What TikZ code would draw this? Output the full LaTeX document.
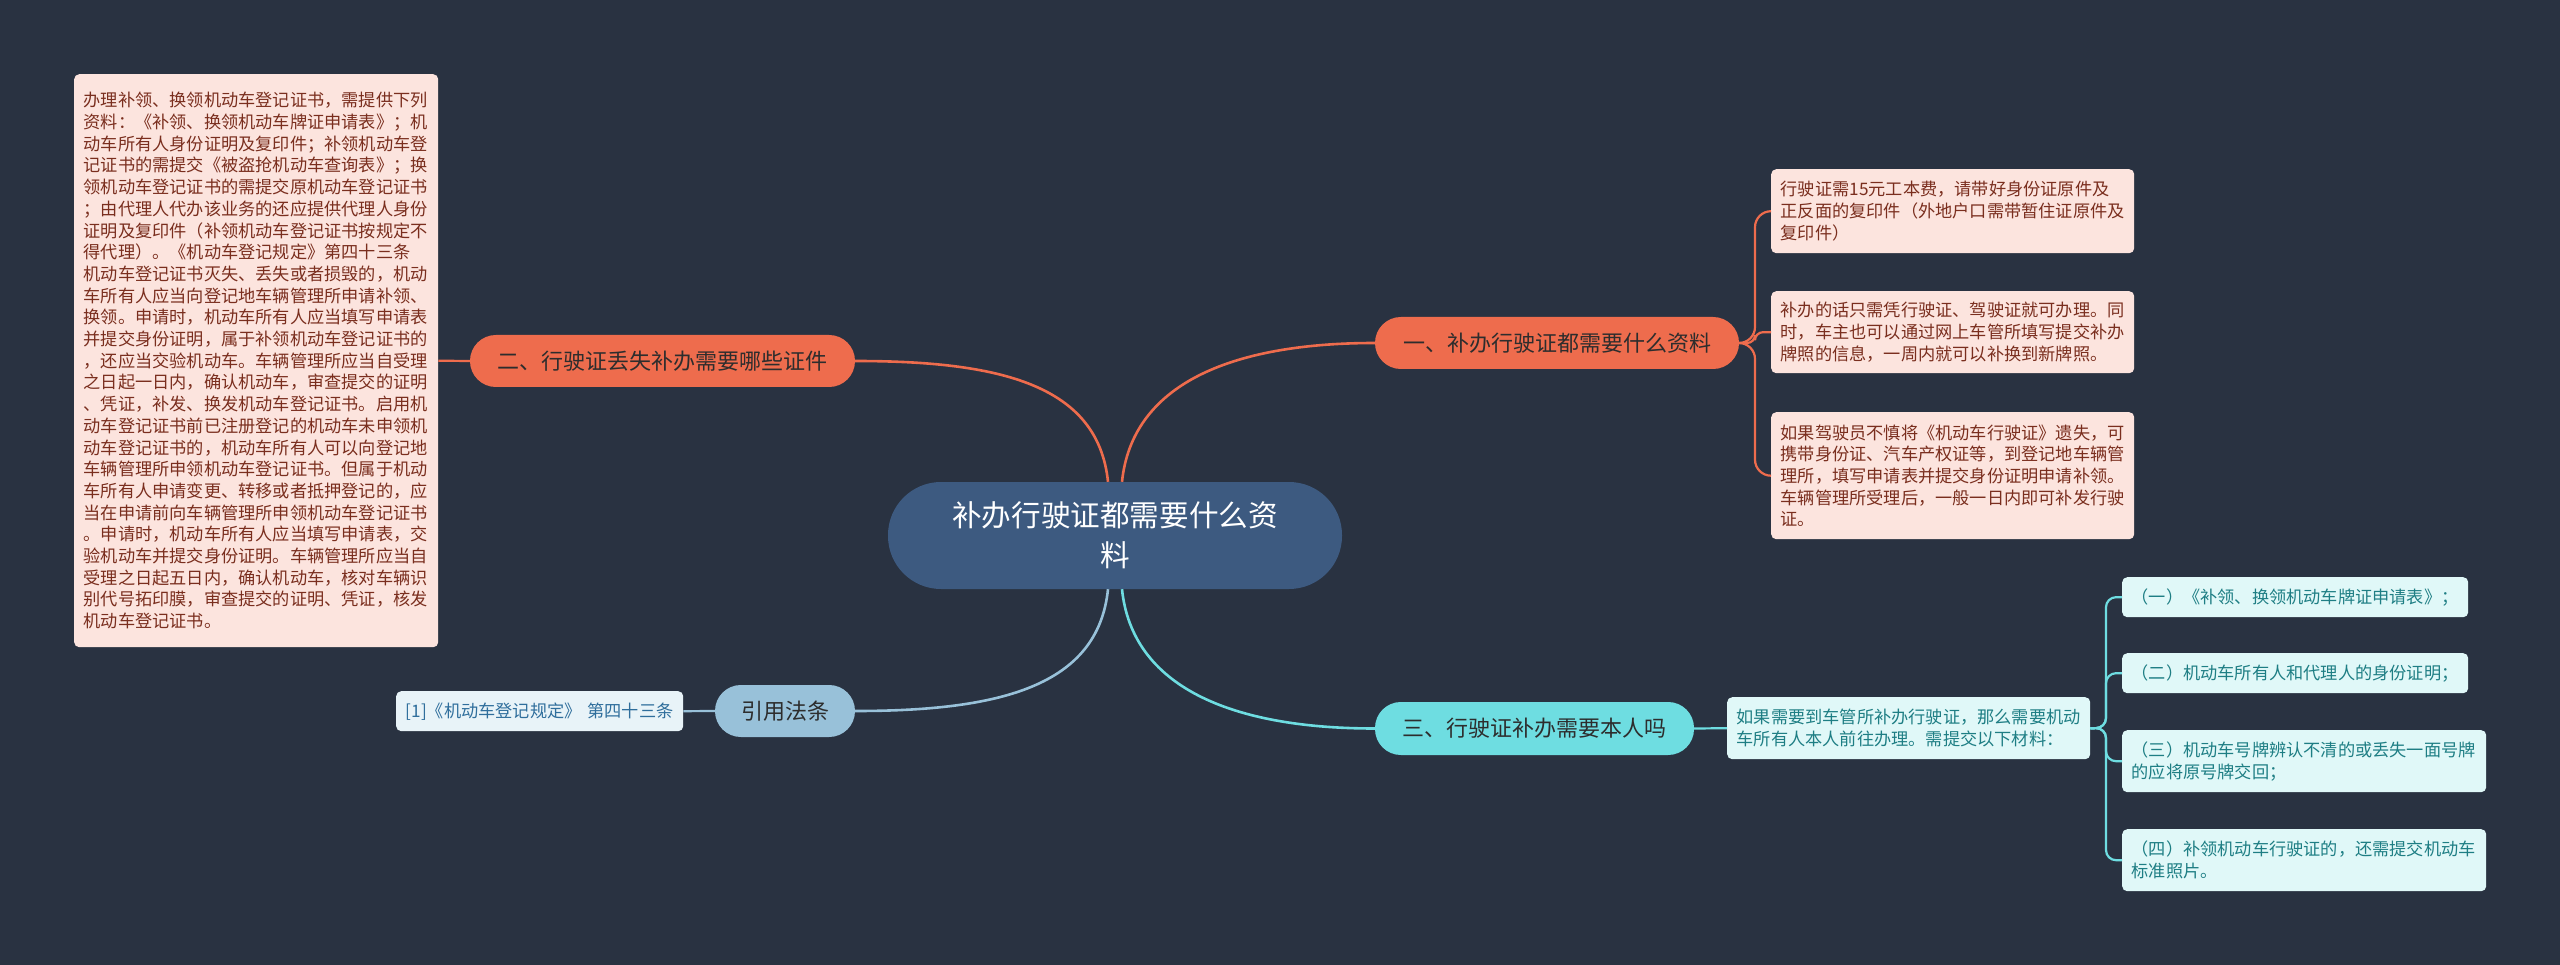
\documentclass[tikz,border=0pt]{standalone}
\usepackage{fontspec}
\setmainfont{Noto Sans CJK SC}
\usetikzlibrary{calc}
\definecolor{bg}{HTML}{293241}
\definecolor{cfill}{HTML}{3D5A80}
\definecolor{orn}{HTML}{EE6C4D}
\definecolor{cyn}{HTML}{6EDDE1}
\definecolor{lbl}{HTML}{98C1D9}
\definecolor{pinkf}{HTML}{FCE4DE}
\definecolor{pinkt}{HTML}{7A2E1E}
\definecolor{cynf}{HTML}{E0F8F8}
\definecolor{cynt}{HTML}{1E7E84}
\definecolor{bluf}{HTML}{E8F3F8}
\definecolor{blut}{HTML}{2F6E9C}
\definecolor{dtxt}{HTML}{2D2D2D}
\begin{document}
\begin{tikzpicture}[x=1pt,y=-1pt,
  leaf/.style={rounded corners=5pt, inner xsep=9.5pt, inner ysep=0pt, align=left,
    font=\fontsize{17.2}{21.7}\selectfont, anchor=north west},
  pinkleaf/.style={leaf, fill=pinkf, text=pinkt},
  cynleaf/.style={leaf, fill=cynf, text=cynt},
  bluleaf/.style={leaf, fill=bluf, text=blut},
  branch/.style={rounded corners=25.9pt, inner sep=0pt, align=center,
    font=\fontsize{22}{26}\selectfont, text=dtxt},
  conn/.style={line width=2.6pt},
  sub/.style={line width=2.2pt, rounded corners=10pt}
]
\fill[bg] (0,0) rectangle (2560,965);
\useasboundingbox (0,0) rectangle (2560,965);

% center
\node[fill=cfill, rounded corners=53pt, minimum width=454pt, minimum height=107pt,
  inner sep=0pt, align=center, text=white, font=\fontsize{29.6}{40}\selectfont]
  (C) at (1115,535.5) {补办行驶证都需要什么资\\料};

% branches
\node[branch, fill=orn, minimum width=364pt, minimum height=52pt] (B1) at (1557,343) {一、补办行驶证都需要什么资料};
\node[branch, fill=orn, minimum width=385pt, minimum height=52pt] (B2) at (662.5,361) {二、行驶证丢失补办需要哪些证件};
\node[branch, fill=cyn, minimum width=319pt, minimum height=53pt] (B3) at (1534.5,728.5) {三、行驶证补办需要本人吗};
\node[branch, fill=lbl, minimum width=140pt, minimum height=52pt] (BR) at (785,711) {引用法条};

% leaves of branch 1
\node[pinkleaf, text width=344pt, minimum width=363pt, minimum height=84pt] (R1) at (1771,169)
 {行驶证需15元工本费，请带好身份证原件及\\正反面的复印件（外地户口需带暂住证原件及\\复印件）};
\node[pinkleaf, text width=344pt, minimum width=363pt, minimum height=82pt] (R2) at (1771,291)
 {补办的话只需凭行驶证、驾驶证就可办理。同\\时，车主也可以通过网上车管所填写提交补办\\牌照的信息，一周内就可以补换到新牌照。};
\node[pinkleaf, text width=344pt, minimum width=363pt, minimum height=127pt] (R3) at (1771,412)
 {如果驾驶员不慎将《机动车行驶证》遗失，可\\携带身份证、汽车产权证等，到登记地车辆管\\理所，填写申请表并提交身份证明申请补领。\\车辆管理所受理后，一般一日内即可补发行驶\\证。};

% leaf of branch 2
\node[pinkleaf, text width=345pt, minimum width=364pt, minimum height=573pt] (L0) at (74,74)
 {办理补领、换领机动车登记证书，需提供下列\\
资料：《补领、换领机动车牌证申请表》；机\\
动车所有人身份证明及复印件；补领机动车登\\
记证书的需提交《被盗抢机动车查询表》；换\\
领机动车登记证书的需提交原机动车登记证书\\
；由代理人代办该业务的还应提供代理人身份\\
证明及复印件（补领机动车登记证书按规定不\\
得代理）。《机动车登记规定》第四十三条\\
机动车登记证书灭失、丢失或者损毁的，机动\\
车所有人应当向登记地车辆管理所申请补领、\\
换领。申请时，机动车所有人应当填写申请表\\
并提交身份证明，属于补领机动车登记证书的\\
，还应当交验机动车。车辆管理所应当自受理\\
之日起一日内，确认机动车，审查提交的证明\\
、凭证，补发、换发机动车登记证书。启用机\\
动车登记证书前已注册登记的机动车未申领机\\
动车登记证书的，机动车所有人可以向登记地\\
车辆管理所申领机动车登记证书。但属于机动\\
车所有人申请变更、转移或者抵押登记的，应\\
当在申请前向车辆管理所申领机动车登记证书\\
。申请时，机动车所有人应当填写申请表，交\\
验机动车并提交身份证明。车辆管理所应当自\\
受理之日起五日内，确认机动车，核对车辆识\\
别代号拓印膜，审查提交的证明、凭证，核发\\
机动车登记证书。};

% reference leaf
\node[bluleaf, text width=268pt, minimum width=287pt, minimum height=40pt] (RF) at (396,691)
 {[1]《机动车登记规定》 第四十三条};

% leaves of branch 3
\node[cynleaf, text width=344pt, minimum width=363pt, minimum height=62pt] (M3) at (1727,697)
 {如果需要到车管所补办行驶证，那么需要机动\\车所有人本人前往办理。需提交以下材料：};
\node[cynleaf, text width=327pt, minimum width=346pt, minimum height=40pt] (S1) at (2122,577)
 {（一）《补领、换领机动车牌证申请表》；};
\node[cynleaf, text width=327pt, minimum width=346pt, minimum height=40pt] (S2) at (2122,653)
 {（二）机动车所有人和代理人的身份证明；};
\node[cynleaf, text width=345pt, minimum width=364pt, minimum height=62pt] (S3) at (2122,730)
 {（三）机动车号牌辨认不清的或丢失一面号牌\\的应将原号牌交回；};
\node[cynleaf, text width=345pt, minimum width=364pt, minimum height=62pt] (S4) at (2122,829)
 {（四）补领机动车行驶证的，还需提交机动车\\标准照片。};

% main connectors
\draw[conn, orn] ([xshift=7pt]C.north) .. controls +(10,-97) and +(-145,0) .. (B1.west);
\draw[conn, orn] ([xshift=-7pt]C.north) .. controls +(-10,-97) and +(145,0) .. (B2.east);
\draw[conn, lbl] ([xshift=-7pt]C.south) .. controls +(-10,97) and +(145,0) .. (BR.east);
\draw[conn, cyn] ([xshift=7pt]C.south) .. controls +(10,97) and +(-145,0) .. (B3.west);

% sub connectors
\coordinate (J1) at (1755,343);
\coordinate (J3) at (2106,728);
\draw[sub, orn, rounded corners=16pt] (B1.east) -- (J1) |- (R1.west);
\draw[sub, orn, rounded corners=8pt] (B1.east) -- (J1) |- (R2.west);
\draw[sub, orn, rounded corners=16pt] (B1.east) -- (J1) |- (R3.west);
\draw[sub, orn] (B2.west) -- (L0.east);
\draw[sub, lbl] (BR.west) -- (RF.east);
\draw[sub, cyn] (B3.east) -- (M3.west);
\draw[sub, cyn] (M3.east) -- (J3) |- (S1.west);
\draw[sub, cyn] (M3.east) -- (J3) |- (S2.west);
\draw[sub, cyn] (M3.east) -- (J3) |- (S3.west);
\draw[sub, cyn] (M3.east) -- (J3) |- (S4.west);
\end{tikzpicture}
\end{document}
